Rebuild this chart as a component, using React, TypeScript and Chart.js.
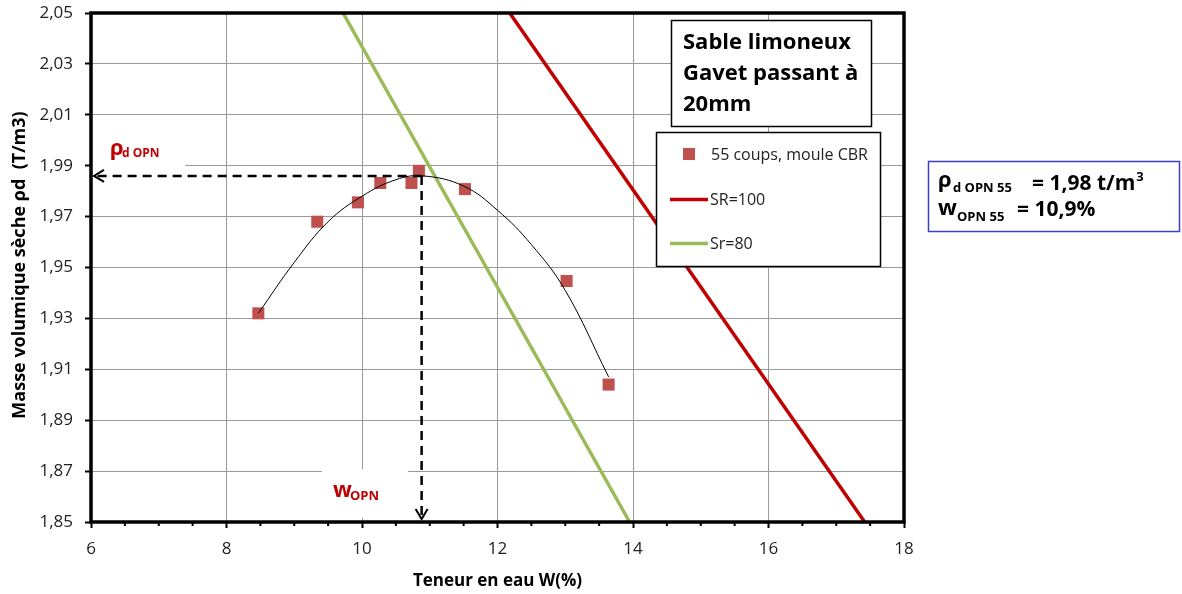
import { useEffect, useRef } from 'react';
import { Chart, registerables } from 'chart.js';

Chart.register(...registerables);

const FONT = '"Open Sans", "DejaVu Sans", sans-serif';

// Measured points (55 blows, CBR mould)
const waterContent = [8.47, 9.34, 9.94, 10.27, 10.73, 10.84, 11.52, 13.02, 13.64];
const dryDensity = [1.932, 1.968, 1.9756, 1.9832, 1.9832, 1.988, 1.9808, 1.9447, 1.904];
// Trend curve
const trendWater = [8.47, 9.0, 9.5, 10.0, 10.5, 10.9, 11.5, 12.0, 12.5, 13.0, 13.64];
const trendDensity = [1.932, 1.952, 1.968, 1.978, 1.9845, 1.986, 1.982, 1.9725, 1.959, 1.941, 1.907];
// Saturation lines
const sr100Water = [12.18, 17.42];
const sr100Density = [2.05, 1.85];
const sr80Water = [9.72, 13.95];
const sr80Density = [2.05, 1.85];
// Ticks
const xTickValues = [6, 8, 10, 12, 14, 16, 18];
const yTickValues = [1.85, 1.87, 1.89, 1.91, 1.93, 1.95, 1.97, 1.99, 2.01, 2.03, 2.05];
// Optimum
const optimumWater = 10.88;
const optimumDensity = 1.986;
// Texts
const boxTitleLines = ['Sable limoneux', 'Gavet passant à', '20mm'];
const seriesNames = ['55 coups, moule CBR', 'SR=100', 'Sr=80'];
const xTitle = 'Teneur en eau W(%)';
const yTitle = 'Masse volumique sèche ρd  (T/m3)';

const RED_LABEL = '#C00000';
const POINT_COLOR = '#C0504D';
const SR100_COLOR = '#C00000';
const SR80_COLOR = '#9BBB59';

const pairs = (xs: number[], ys: number[]) => xs.map((x, i) => ({ x, y: ys[i] }));

const overlayPlugin = {
  id: 'overlay',
  beforeDatasetsDraw(chart: any) {
    const ctx = chart.ctx as CanvasRenderingContext2D;
    ctx.save();
    // white label backgrounds
    ctx.fillStyle = '#fff';
    ctx.fillRect(92, 137, 93, 31);
    ctx.fillRect(322, 469, 86, 49);
    ctx.fillStyle = RED_LABEL;
    ctx.textBaseline = 'alphabetic';
    ctx.textAlign = 'left';
    ctx.font = `bold 22px ${FONT}`;
    ctx.fillText('ρ', 110, 155);
    ctx.font = `bold 12px ${FONT}`;
    ctx.fillText('d OPN', 122, 157);
    ctx.font = `bold 22px ${FONT}`;
    ctx.fillText('w', 333, 497);
    ctx.font = `bold 13px ${FONT}`;
    ctx.fillText('OPN', 350, 500);
    ctx.restore();
  },
  afterDatasetsDraw(chart: any) {
    const ctx = chart.ctx as CanvasRenderingContext2D;
    const a = chart.chartArea;
    const xs = chart.scales.x;
    const ys = chart.scales.y;
    ctx.save();

    // dashed optimum lines
    const px = xs.getPixelForValue(optimumWater);
    const py = ys.getPixelForValue(optimumDensity);
    ctx.strokeStyle = '#000';
    ctx.lineWidth = 2.5;
    ctx.setLineDash([9, 6]);
    ctx.beginPath();
    ctx.moveTo(px, py);
    ctx.lineTo(a.left + 4, py);
    ctx.stroke();
    ctx.beginPath();
    ctx.moveTo(px, py);
    ctx.lineTo(px, a.bottom - 4);
    ctx.stroke();
    ctx.setLineDash([]);
    ctx.lineWidth = 2;
    ctx.beginPath();
    ctx.moveTo(a.left + 13, py - 6);
    ctx.lineTo(a.left + 3, py);
    ctx.lineTo(a.left + 13, py + 6);
    ctx.stroke();
    ctx.beginPath();
    ctx.moveTo(px - 6, a.bottom - 13);
    ctx.lineTo(px, a.bottom - 3);
    ctx.lineTo(px + 6, a.bottom - 13);
    ctx.stroke();

    // frame
    ctx.lineWidth = 3.5;
    ctx.strokeRect(a.left, a.top, a.right - a.left, a.bottom - a.top);

    // minor x ticks
    ctx.lineWidth = 2;
    for (let v = xs.min; v <= xs.max + 1e-9; v += 0.5) {
      if (Math.abs(v / 2 - Math.round(v / 2)) < 1e-6) continue;
      const tx = xs.getPixelForValue(v);
      ctx.beginPath();
      ctx.moveTo(tx, a.bottom);
      ctx.lineTo(tx, a.bottom + 4);
      ctx.stroke();
    }

    // title box
    ctx.fillStyle = '#fff';
    ctx.fillRect(671, 20, 201, 107);
    ctx.lineWidth = 1.5;
    ctx.strokeStyle = '#000';
    ctx.strokeRect(671.5, 20.5, 200, 106);
    ctx.fillStyle = '#000';
    ctx.font = `bold 22px ${FONT}`;
    ctx.textAlign = 'left';
    ctx.textBaseline = 'alphabetic';
    boxTitleLines.forEach((t, i) => ctx.fillText(t, 683, 49 + i * 31));

    // legend box
    ctx.fillStyle = '#fff';
    ctx.fillRect(656, 132, 225, 135);
    ctx.strokeRect(656.5, 132.5, 224, 134);
    ctx.fillStyle = POINT_COLOR;
    ctx.fillRect(683, 148, 12, 12);
    ctx.lineWidth = 3.5;
    ctx.strokeStyle = SR100_COLOR;
    ctx.beginPath();
    ctx.moveTo(670, 199.5);
    ctx.lineTo(708, 199.5);
    ctx.stroke();
    ctx.strokeStyle = SR80_COLOR;
    ctx.beginPath();
    ctx.moveTo(670, 243.5);
    ctx.lineTo(708, 243.5);
    ctx.stroke();
    ctx.fillStyle = '#222';
    ctx.font = `16px ${FONT}`;
    ctx.fillText(seriesNames[0], 711, 160);
    ctx.fillText(seriesNames[1], 710, 205);
    ctx.fillText(seriesNames[2], 710, 249);

    // right result box
    ctx.lineWidth = 1.5;
    ctx.strokeStyle = '#3F3FCF';
    ctx.strokeRect(928.5, 161.5, 251, 70);
    ctx.fillStyle = '#000';
    ctx.font = `bold 22px ${FONT}`;
    ctx.fillText('ρ', 938, 187);
    ctx.font = `bold 13px ${FONT}`;
    ctx.fillText('d OPN 55', 953, 192);
    ctx.font = `bold 21px ${FONT}`;
    const l1 = '= 1,98 t/m';
    ctx.fillText(l1, 1032, 190);
    const w1 = ctx.measureText(l1).width;
    ctx.font = `bold 13px ${FONT}`;
    ctx.fillText('3', 1032 + w1 + 1, 181);
    ctx.font = `bold 22px ${FONT}`;
    ctx.fillText('w', 938, 215);
    ctx.font = `bold 13px ${FONT}`;
    ctx.fillText('OPN 55', 957, 221);
    ctx.font = `bold 21px ${FONT}`;
    ctx.fillText('= 10,9%', 1017, 216);

    // axis titles
    ctx.fillStyle = '#000';
    ctx.font = `bold 17px ${FONT}`;
    ctx.textAlign = 'center';
    ctx.fillText(xTitle, (a.left + a.right) / 2, 586);
    ctx.save();
    ctx.translate(20, 265);
    ctx.rotate(-Math.PI / 2);
    ctx.font = `bold 18px ${FONT}`;
    ctx.textBaseline = 'middle';
    ctx.fillText(yTitle, 0, 0);
    ctx.restore();

    ctx.restore();
  },
};

export default function App() {
  const canvasRef = useRef<HTMLCanvasElement | null>(null);

  useEffect(() => {
    document.body.style.margin = '0';
    const canvas = canvasRef.current;
    if (!canvas) return;
    const chart = new Chart(canvas, {
      type: 'scatter',
      data: {
        datasets: [
          {
            label: 'trend',
            data: pairs(trendWater, trendDensity),
            showLine: true,
            borderColor: '#000',
            borderWidth: 1,
            pointRadius: 0,
            tension: 0.4,
            order: 0,
          },
          {
            label: seriesNames[2],
            data: pairs(sr80Water, sr80Density),
            showLine: true,
            borderColor: SR80_COLOR,
            borderWidth: 3.5,
            pointRadius: 0,
            order: 1,
          },
          {
            label: seriesNames[1],
            data: pairs(sr100Water, sr100Density),
            showLine: true,
            borderColor: SR100_COLOR,
            borderWidth: 3.5,
            pointRadius: 0,
            order: 2,
          },
          {
            label: seriesNames[0],
            data: pairs(waterContent, dryDensity),
            showLine: false,
            pointStyle: 'rect',
            pointRadius: 8.5,
            backgroundColor: POINT_COLOR,
            borderColor: POINT_COLOR,
            borderWidth: 0,
            order: 3,
          },
        ],
      },
      options: {
        responsive: false,
        animation: false,
        devicePixelRatio: 1,
        layout: { padding: { left: 0, top: 13, right: 278, bottom: 0 } },
        plugins: {
          legend: { display: false },
          tooltip: { enabled: false },
          title: { display: false },
        },
        scales: {
          x: {
            type: 'linear',
            min: 6,
            max: 18,
            afterBuildTicks: (s: any) => {
              s.ticks = xTickValues.map((v) => ({ value: v }));
            },
            afterFit: (s: any) => {
              s.height = 72;
              s.paddingLeft = 0;
              s.paddingRight = 0;
            },
            border: { display: false },
            grid: {
              color: '#9a9a9a',
              lineWidth: 1,
              tickColor: '#000',
              tickLength: 6,
              tickWidth: 2,
            },
            ticks: {
              color: '#222',
              font: { family: FONT, size: 17 },
              padding: 11,
              callback: (v: any) => String(v),
            },
          },
          y: {
            type: 'linear',
            min: 1.85,
            max: 2.05,
            afterBuildTicks: (s: any) => {
              s.ticks = yTickValues.map((v) => ({ value: v }));
            },
            afterFit: (s: any) => {
              s.width = 91;
              s.paddingTop = 0;
              s.paddingBottom = 0;
            },
            border: { display: false },
            grid: {
              color: '#9a9a9a',
              lineWidth: 1,
              tickColor: '#000',
              tickLength: 6,
              tickWidth: 2,
            },
            ticks: {
              color: '#222',
              font: { family: FONT, size: 17 },
              padding: 12,
              callback: (v: any) => Number(v).toFixed(2).replace('.', ','),
            },
          },
        },
      },
      plugins: [overlayPlugin],
    } as any);
    return () => chart.destroy();
  }, []);

  return <canvas ref={canvasRef} width={1182} height={594} style={{ display: 'block' }} />;
}
